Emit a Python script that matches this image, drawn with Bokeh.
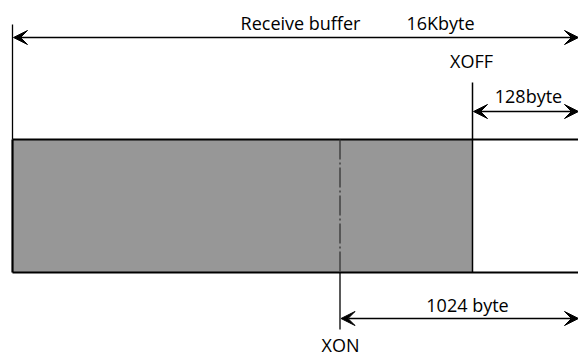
from bokeh.plotting import figure
from bokeh.models import Range1d, Arrow, VeeHead, ColumnDataSource
from bokeh.core.properties import value
from bokeh.embed import file_html
from bokeh.resources import INLINE

# Diagram labels
labels = ["Receive buffer", "16Kbyte", "XOFF", "128byte", "1024 byte", "XON"]

W, H = 578, 355
p = figure(width=W, height=H, output_backend="svg", toolbar_location=None,
           x_range=Range1d(0, 578), y_range=Range1d(355, 0),
           min_border=0, min_border_left=0, min_border_right=0,
           min_border_top=0, min_border_bottom=0)
p.axis.visible = False
p.grid.visible = False
p.outline_line_color = None
p.background_fill_color = "white"

# layout positions (pixels)
x0, xon_x, xoff_x, x1 = 12, 339.5, 472, 580
top, bot = 139, 272

# gray filled part of the buffer
p.quad(left=[x0], right=[xoff_x], top=[top], bottom=[bot],
       fill_color="#979797", line_color=None)
# buffer borders
p.segment(x0=[x0, x0], y0=[top, bot], x1=[x1, x1], y1=[top, bot],
          line_color="black", line_width=2.2)
p.segment(x0=[x0], y0=[top], x1=[x0], y1=[bot], line_color="black", line_width=2.2)
# left extension line
p.segment(x0=[x0], y0=[24], x1=[x0], y1=[top], line_color="black", line_width=1.3)
# XOFF line
p.segment(x0=[xoff_x], y0=[82], x1=[xoff_x], y1=[bot], line_color="black", line_width=1.5)
# XON dash-dot inside, solid below
p.segment(x0=[xon_x], y0=[top], x1=[xon_x], y1=[bot], line_color="#333333",
          line_width=1.3, line_dash="20 3 2 3")
p.segment(x0=[xon_x], y0=[bot], x1=[xon_x], y1=[329], line_color="black", line_width=1.3)

def dbl_arrow(xa, xb, y):
    p.add_layout(Arrow(x_start=xa, y_start=y, x_end=xb, y_end=y,
                       line_width=1.3, line_color="black",
                       start=VeeHead(size=14, fill_color="black", line_color="black", line_width=1),
                       end=VeeHead(size=14, fill_color="black", line_color="black", line_width=1)))

dbl_arrow(x0 + 1, 578, 37)
dbl_arrow(xoff_x + 1, 578, 111)
dbl_arrow(xon_x + 1, 578, 318)

src = ColumnDataSource(dict(
    x=[300, 440, 471, 528, 467, 340],
    y=[22, 22, 60, 95, 304, 344],
    t=labels,
))
p.text(x="x", y="y", text="t", source=src, text_align="center", text_baseline="middle",
       text_font=value("Open Sans"), text_font_size="18px", text_color="black")

open("out.html", "w").write(file_html(p, INLINE))
